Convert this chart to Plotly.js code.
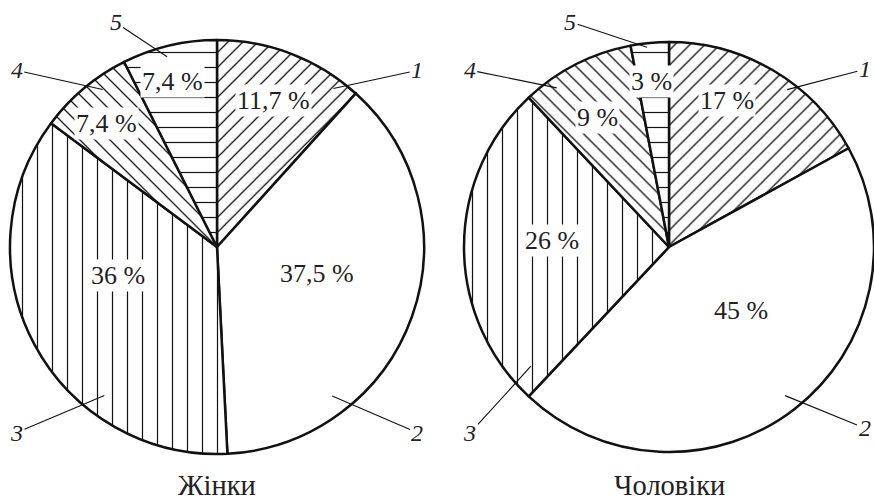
<!DOCTYPE html>
<html>
<head>
<meta charset="utf-8">
<script src="https://cdn.plot.ly/plotly-3.0.1.min.js"></script>
<style>html,body{margin:0;padding:0;background:#fff;}#chart{width:874px;height:504px;}</style>
</head>
<body>
<div id="chart"></div>
<script>
// ---- data ----
const categories = ['1', '2', '3', '4', '5'];
const womenValues = [11.7, 37.5, 36, 7.4, 7.4];
const menValues = [17, 45, 26, 9, 3];
const groupTitles = ['Жінки', 'Чоловіки'];

// ---- styles / layout helpers ----
const W = 874, H = 504;
const FONT = 'Liberation Serif';
const pies = [
  {cx: 217, cy: 247, r: 207, values: womenValues, title: groupTitles[0],
   labelF: [0.76, 0.50, 0.50, 0.80, 0.83], labelShift: [0, -4.5, 12, -2, -1.7],
   lead: [[36.3, 0.95, 48.6, 1.29], [142.3, 0.91, 132.8, 1.32], [217.2, 0.90, 227.2, 1.32], [324, 0.94, 311.4, 1.29], [345.3, 0.95, 335.7, 1.19]]},
  {cx: 669, cy: 247, r: 205, values: menValues, title: groupTitles[1],
   labelF: [0.77, 0.47, 0.57, 0.72, 0.81], labelShift: [-9, -11, 3, -2, -0.6],
   lead: [[36.9, 0.96, 47.8, 1.29], [142, 0.92, 132.8, 1.30], [229.2, 0.89, 226.9, 1.33], [324.8, 0.95, 311.6, 1.30], [353.7, 0.98, 336.3, 1.20]]}
];
const patternShapes = ['/', '', '|', '\\', '-'];
const patternSizes = [10.6, 15, 15, 10.6, 15];
const patternSolidity = [0.12, 0.08, 0.08, 0.12, 0.08];

function px(p, ang, f) {
  const a = ang * Math.PI / 180;
  return {x: p.cx + p.r * f * Math.sin(a), y: p.cy - p.r * f * Math.cos(a)};
}
function fmt(v) { return String(v).replace('.', ',') + ' %'; }

const traces = [];
const annotations = [];
pies.forEach(p => {
  traces.push({
    type: 'pie', values: p.values, labels: categories, sort: false,
    direction: 'clockwise', rotation: 0, textinfo: 'none', hoverinfo: 'skip',
    showlegend: false,
    domain: {x: [(p.cx - p.r) / W, Math.min(1, (p.cx + p.r) / W)], y: [1 - (p.cy + p.r) / H, 1 - (p.cy - p.r) / H]},
    marker: {
      colors: categories.map(() => '#ffffff'),
      line: {color: '#111111', width: 2.5},
      pattern: {shape: patternShapes, size: patternSizes, solidity: patternSolidity, fgcolor: '#111111', bgcolor: '#ffffff'}
    }
  });
  const total = p.values.reduce((a, b) => a + b, 0);
  let cum = 0;
  p.values.forEach((v, i) => {
    const mid = (cum + v / 2) / total * 360;
    cum += v;
    const q = px(p, mid + p.labelShift[i], p.labelF[i]);
    annotations.push({xref: 'paper', yref: 'paper', x: q.x / W, y: 1 - q.y / H,
      xanchor: 'center', yanchor: 'middle',
      text: fmt(v), showarrow: false, bgcolor: '#ffffff', borderpad: 1,
      font: {family: FONT, size: 26, color: '#222'}});
    const L = p.lead[i];
    const a = px(p, L[0], L[1]);
    const b = px(p, L[2], L[3]);
    annotations.push({xref: 'paper', yref: 'paper', x: a.x / W, y: 1 - a.y / H,
      ax: b.x - a.x, ay: b.y - a.y, showarrow: true, arrowhead: 0, arrowwidth: 1.1,
      arrowcolor: '#111', standoff: 0, text: '<i>' + categories[i] + '</i>',
      font: {family: FONT, size: 24, color: '#222'}});
  });
  annotations.push({xref: 'paper', yref: 'paper', x: p.cx / W, y: 1 - 485 / H,
    xanchor: 'center', yanchor: 'middle',
    text: p.title, showarrow: false, font: {family: FONT, size: 28.5, color: '#222'}});
});

const layout = {
  width: W, height: H, margin: {l: 0, r: 0, t: 0, b: 0},
  paper_bgcolor: '#ffffff', plot_bgcolor: '#ffffff',
  showlegend: false, annotations: annotations
};
Plotly.newPlot('chart', traces, layout, {displayModeBar: false, staticPlot: true});
</script>
</body>
</html>
